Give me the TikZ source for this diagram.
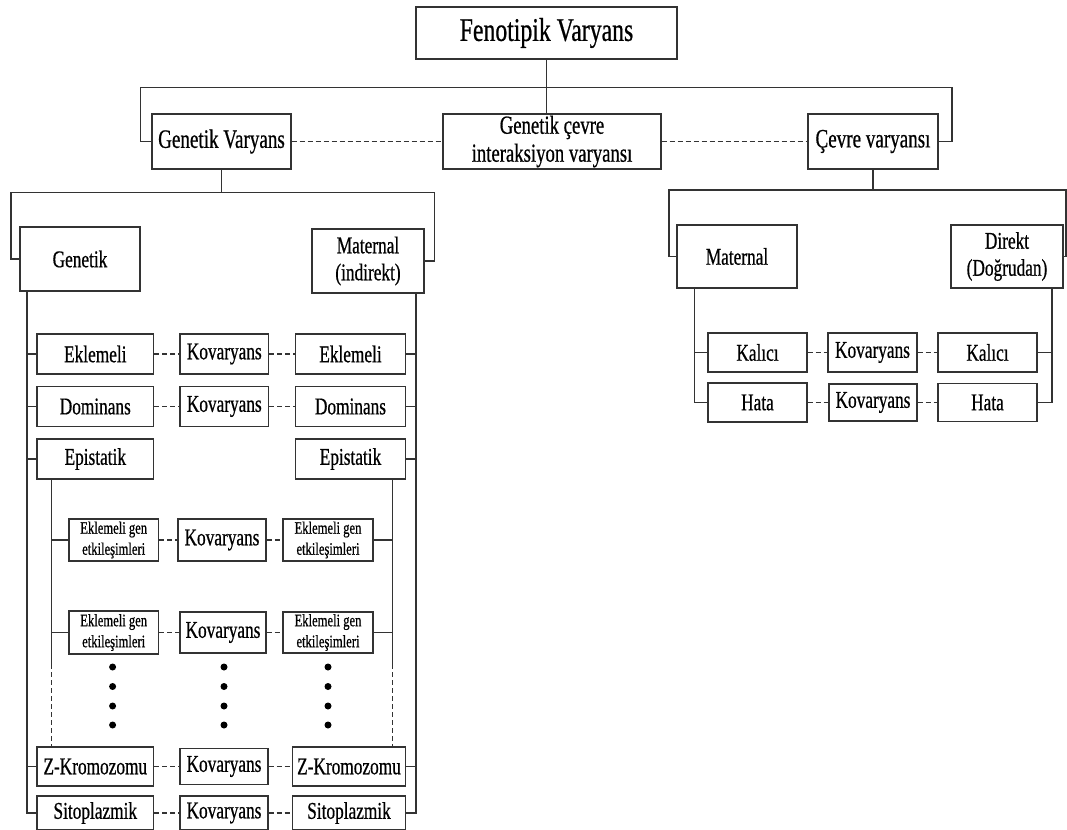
\documentclass[tikz,border=0pt]{standalone}
\usepackage{fontspec}
\setmainfont[FakeStretch=0.72, FakeBold=0.6]{Liberation Serif}

\tikzset{
  box/.style={draw=black!80, line width=1.4pt, inner sep=0pt, align=center,
    font=\fontsize{24}{27}\selectfont},
  big/.style={font=\fontsize{33}{38}\selectfont},
  mid/.style={font=\fontsize{26.5}{29}\selectfont},
  small/.style={font=\fontsize{17.5}{21}\selectfont},
  sline/.style={draw=black!80, line width=1.4pt},
  dline/.style={draw=black!80, line width=1.4pt, dash pattern=on 5pt off 3pt},
}

\begin{document}
\begin{tikzpicture}[x=1pt, y=-1pt]
\useasboundingbox (0,0) rectangle (1067,829);
% top levels
\node[box, big, minimum width=261, minimum height=52] (fen) at (546.5,33) {Fenotipik Varyans};
\node[box, mid, minimum width=139, minimum height=55] (gv) at (221.5,141.5) {Genetik Varyans};
\node[box, minimum width=218, minimum height=55, font=\fontsize{26}{28}\selectfont] (gcv) at (552,141.5) {Genetik çevre\\interaksiyon varyansı};
\node[box, mid, minimum width=130, minimum height=55] (cv) at (873,141.5) {Çevre varyansı};
\node[box, minimum width=120, minimum height=64] (gen) at (80,259) {Genetik};
\node[box, minimum width=112, minimum height=64] (mat) at (368,261) {Maternal\\(indirekt)};
\node[box, minimum width=120, minimum height=63] (matr) at (737,256.5) {Maternal};
\node[box, minimum width=112, minimum height=63] (dir) at (1007,256.5) {Direkt\\(Doğrudan)};

% genetic rows
\node[box, minimum width=116.6, minimum height=40] (ek1) at (95.3,354) {Eklemeli};
\node[box, minimum width=88.6, minimum height=40] (kovA) at (224.3,354) {Kovaryans};
\node[box, minimum width=110, minimum height=40] (ek2) at (350.5,354) {Eklemeli};
\node[box, minimum width=116.6, minimum height=40] (dom1) at (95.3,406.5) {Dominans};
\node[box, minimum width=88.6, minimum height=40] (kovB) at (224.3,406.5) {Kovaryans};
\node[box, minimum width=110, minimum height=40] (dom2) at (350.5,406.5) {Dominans};
\node[box, minimum width=116.6, minimum height=40] (epi1) at (95.3,459) {Epistatik};
\node[box, minimum width=110, minimum height=40] (epi2) at (350.5,459) {Epistatik};
\node[box, small, minimum width=89.4, minimum height=42] (ege1a) at (113.7,540) {Eklemeli gen\\etkileşimleri};
\node[box, minimum width=88.3, minimum height=42] (kovC) at (222,540) {Kovaryans};
\node[box, small, minimum width=90, minimum height=42] (ege2a) at (328,540) {Eklemeli gen\\etkileşimleri};
\node[box, small, minimum width=89.4, minimum height=43] (ege1b) at (113.7,632.5) {Eklemeli gen\\etkileşimleri};
\node[box, minimum width=86, minimum height=41] (kovD) at (223,632.5) {Kovaryans};
\node[box, small, minimum width=90, minimum height=41] (ege2b) at (328,632.5) {Eklemeli gen\\etkileşimleri};
\node[box, minimum width=116.6, minimum height=39] (z1) at (95.3,766.5) {Z-Kromozomu};
\node[box, minimum width=88, minimum height=36] (kovE) at (224,766.5) {Kovaryans};
\node[box, minimum width=113, minimum height=39] (z2) at (349,766.5) {Z-Kromozomu};
\node[box, minimum width=116.6, minimum height=34] (sit1) at (95.3,813) {Sitoplazmik};
\node[box, minimum width=88, minimum height=34] (kovF) at (224,813) {Kovaryans};
\node[box, minimum width=113, minimum height=34] (sit2) at (349,813) {Sitoplazmik};

% environment rows
\node[box, minimum width=99, minimum height=39] (kal1) at (757.5,352.5) {Kalıcı};
\node[box, minimum width=89, minimum height=39] (kovG) at (872.5,352.5) {Kovaryans};
\node[box, minimum width=99, minimum height=39] (kal2) at (987.5,352.5) {Kalıcı};
\node[box, minimum width=99, minimum height=39] (hata1) at (757.5,402.5) {Hata};
\node[box, minimum width=88, minimum height=37] (kovH) at (873,402.5) {Kovaryans};
\node[box, minimum width=99, minimum height=38] (hata2) at (987.5,402.5) {Hata};

% bars
\coordinate (b1l) at (140.5,87.5);
\coordinate (b1r) at (952,87.5);
\coordinate (b2l) at (11,192.5);
\coordinate (b2r) at (434.6,192.5);
\coordinate (b3l) at (669,190);
\coordinate (b3r) at (1066,190);
\draw[sline] (fen.south) -- (fen.south |- gcv.north);
\draw[sline] (gv.west) -| (b1l) -- (b1r) |- (cv.east);
\draw[dline] (gv) -- (gcv) (gcv) -- (cv);
\draw[sline] (gv.south) -- (gv.south |- b2l);
\draw[sline] (gen.west) -| (b2l) -- (b2r) |- (mat.east);
\draw[sline] (cv.south) -- (cv.south |- b3l);
\draw[sline] (matr.west) -| (b3l) -- (b3r) |- (dir.east);

% verticals of the genetic side
\coordinate (ol) at (27,0);
\coordinate (or) at (416,0);
\coordinate (il) at (51.6,0);
\coordinate (ir) at (392.6,0);
\coordinate (dsh) at (0,664);
\draw[sline] (ol |- gen.south) |- (sit1.west);
\draw[sline] (or |- mat.south) |- (sit2.east);
\foreach \n in {ek1,dom1,epi1,z1}
  \draw[sline] (ol |- \n.west) -- (\n.west);
\foreach \n in {ek2,dom2,epi2,z2}
  \draw[sline] (or |- \n.east) -- (\n.east);
\draw[sline] (il |- epi1.south) -- (il |- dsh);
\draw[dline] (il |- dsh) -- (il |- z1.north);
\draw[sline] (ir |- epi2.south) -- (ir |- dsh);
\draw[dline] (ir |- dsh) -- (ir |- z2.north);
\foreach \n in {ege1a,ege1b}
  \draw[sline] (il |- \n.west) -- (\n.west);
\foreach \n in {ege2a,ege2b}
  \draw[sline] (ir |- \n.east) -- (\n.east);

% verticals of the environment side
\coordinate (el) at (694.3,0);
\coordinate (er) at (1052,0);
\draw[sline] (el |- matr.south) |- (hata1.west);
\draw[sline] (el |- kal1.west) -- (kal1.west);
\draw[sline] (er |- dir.south) |- (hata2.east);
\draw[sline] (er |- kal2.east) -- (kal2.east);

% covariance links
\foreach \a/\b/\c in {ek1/kovA/ek2, dom1/kovB/dom2, ege1a/kovC/ege2a, ege1b/kovD/ege2b,
    z1/kovE/z2, sit1/kovF/sit2, kal1/kovG/kal2, hata1/kovH/hata2}
  \draw[dline] (\a) -- (\b) (\b) -- (\c);

% dots
\foreach \x in {112.6,224,328}
  \foreach \y in {667,686.5,706,725}
    \fill (\x,\y) circle (3.5);
\end{tikzpicture}
\end{document}
